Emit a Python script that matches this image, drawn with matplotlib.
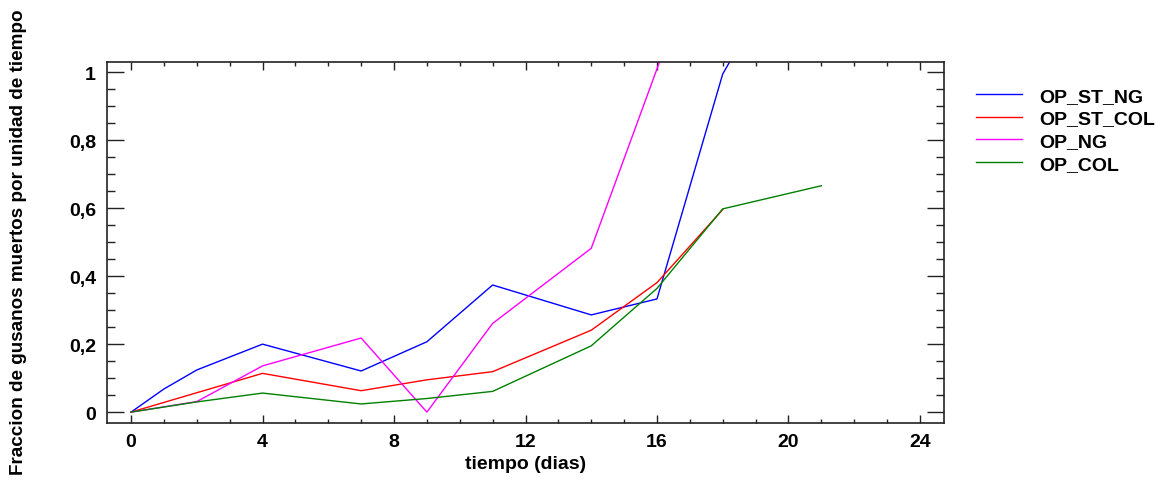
import matplotlib
matplotlib.use("Agg")
import matplotlib.pyplot as plt
from matplotlib.ticker import MultipleLocator, FuncFormatter

plt.rcParams["font.family"] = ["Liberation Sans", "DejaVu Sans"]
plt.rcParams["font.weight"] = "bold"

# ── Data: fraction of dead worms per unit time ─────────────────────────
dias_st_ng = [0, 1, 2, 4, 7, 9, 11, 14, 16, 18, 21]
op_st_ng = [0, 0.068, 0.124, 0.200, 0.121, 0.207, 0.374, 0.286, 0.333, 0.995, 1.50]

dias_st_col = [0, 2, 4, 7, 9, 11, 14, 16, 18]
op_st_col = [0, 0.057, 0.114, 0.063, 0.095, 0.119, 0.241, 0.381, 0.596]

dias_ng = [0, 2, 4, 7, 9, 11, 14, 16, 18]
op_ng = [0, 0.031, 0.136, 0.218, 0.0, 0.261, 0.482, 1.01, 1.55]

dias_col = [0, 2, 4, 7, 9, 11, 14, 16, 18, 21]
op_col = [0, 0.030, 0.056, 0.024, 0.040, 0.061, 0.195, 0.364, 0.598, 0.666]

series = [
    ("OP_ST_NG", dias_st_ng, op_st_ng, "#0000ff"),
    ("OP_ST_COL", dias_st_col, op_st_col, "#ff0000"),
    ("OP_NG", dias_ng, op_ng, "#ff00ff"),
    ("OP_COL", dias_col, op_col, "#008000"),
]

FS = 14

fig = plt.figure(figsize=(11.7, 4.85), dpi=100)
ax = fig.add_axes([0.0915, 0.1258, 0.7153, 0.7442])

for name, x, y, col in series:
    ax.plot(x, y, color=col, lw=1.0, label=name)

ax.set_xlim(-0.73, 24.73)
ax.set_ylim(-0.032, 1.03)

ax.xaxis.set_major_locator(MultipleLocator(4))
ax.xaxis.set_minor_locator(MultipleLocator(1))
ax.yaxis.set_major_locator(MultipleLocator(0.2))
ax.yaxis.set_minor_locator(MultipleLocator(0.05))
ax.yaxis.set_major_formatter(
    FuncFormatter(lambda v, _: f"{v:.1f}".replace(".", ",").replace(",0", "")
                  if abs(v) > 1e-9 else "0"))

ax.tick_params(axis="both", which="both", direction="in", top=True, right=True,
               width=1.0, colors="#222222", labelcolor="black", labelsize=FS)
ax.tick_params(axis="x", which="major", length=6, pad=7)
ax.tick_params(axis="x", which="minor", length=3)
ax.tick_params(axis="y", which="major", length=12, pad=8)
ax.tick_params(axis="y", which="minor", length=6)
for lab in ax.get_xticklabels() + ax.get_yticklabels():
    lab.set_fontweight("bold")
for sp in ax.spines.values():
    sp.set_linewidth(1.2)
    sp.set_color("#222222")

ax.set_xlabel("tiempo (dias)", fontsize=FS, fontweight="bold", labelpad=4)
fig.text(0.016, 0.5, "Fraccion de gusanos muertos por unidad de tiempo",
         rotation=90, ha="center", va="center", fontsize=13.6, fontweight="bold")

fig.legend(loc="upper left", bbox_to_anchor=(0.834, 0.818), frameon=False,
           handlelength=2.4, handletextpad=0.85,
           labelspacing=0.26, borderpad=0, borderaxespad=0,
           prop={"weight": "bold", "size": FS})

fig.savefig("out.png", dpi=100, facecolor="white")
